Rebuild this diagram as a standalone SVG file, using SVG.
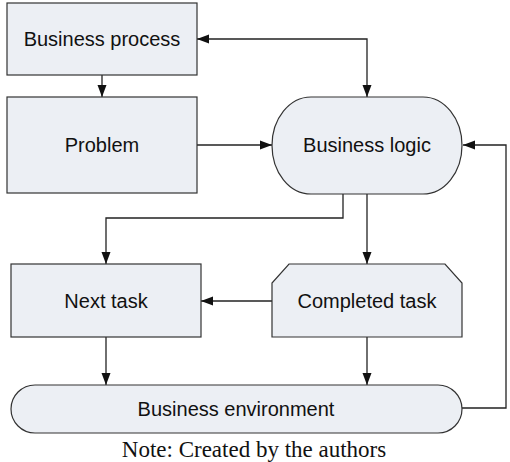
<svg xmlns="http://www.w3.org/2000/svg" width="510" height="462" viewBox="0 0 510 462">
<style>
.node{fill:#ECEFF4;stroke:#333;stroke-width:1.2}
.lbl{font-family:"Liberation Sans",Arial,sans-serif;font-size:20px;fill:#111;text-anchor:middle}
.con{fill:none;stroke:#222;stroke-width:1.3}
.note{font-family:"Liberation Serif","Times New Roman",serif;font-size:23px;fill:#111;text-anchor:middle}
</style>
<defs>
<marker id="ah" markerUnits="userSpaceOnUse" markerWidth="13" markerHeight="10" refX="12" refY="4.5" orient="auto-start-reverse" viewBox="0 0 13 9">
<path d="M0,0 L12,4.5 L0,9 z" fill="#111"/>
</marker>
</defs>
<g id="connectors">
<path class="con" d="M197,39 H367 V97" marker-start="url(#ah)" marker-end="url(#ah)"/>
<path class="con" d="M102,75 V97" marker-end="url(#ah)"/>
<path class="con" d="M197,145 H272" marker-end="url(#ah)"/>
<path class="con" d="M343,194 V218 H106 V264" marker-end="url(#ah)"/>
<path class="con" d="M367,194 V264" marker-end="url(#ah)"/>
<path class="con" d="M272,301 H201" marker-end="url(#ah)"/>
<path class="con" d="M106,337 V385" marker-end="url(#ah)"/>
<path class="con" d="M367,337 V385" marker-end="url(#ah)"/>
<path class="con" d="M462,408 H506 V145 H463" marker-end="url(#ah)"/>
</g>
<g id="business-process">
<rect class="node" x="7" y="3" width="190" height="72"/>
<text class="lbl" x="102" y="46">Business process</text>
</g>
<g id="problem">
<rect class="node" x="7" y="97" width="190" height="96"/>
<text class="lbl" x="102" y="152">Problem</text>
</g>
<g id="business-logic">
<rect class="node" x="272" y="97" width="190" height="97" rx="39" ry="48.5"/>
<text class="lbl" x="367" y="152">Business logic</text>
</g>
<g id="next-task">
<rect class="node" x="11" y="264" width="190" height="73"/>
<text class="lbl" x="106" y="308">Next task</text>
</g>
<g id="completed-task">
<path class="node" d="M289,264 H445 L462,283 V337 H272 V283 Z"/>
<text class="lbl" x="367" y="308">Completed task</text>
</g>
<g id="business-environment">
<rect class="node" x="11" y="385" width="451" height="48" rx="24" ry="24"/>
<text class="lbl" x="236" y="416">Business environment</text>
</g>
<text class="note" x="254" y="457">Note: Created by the authors</text>
</svg>
